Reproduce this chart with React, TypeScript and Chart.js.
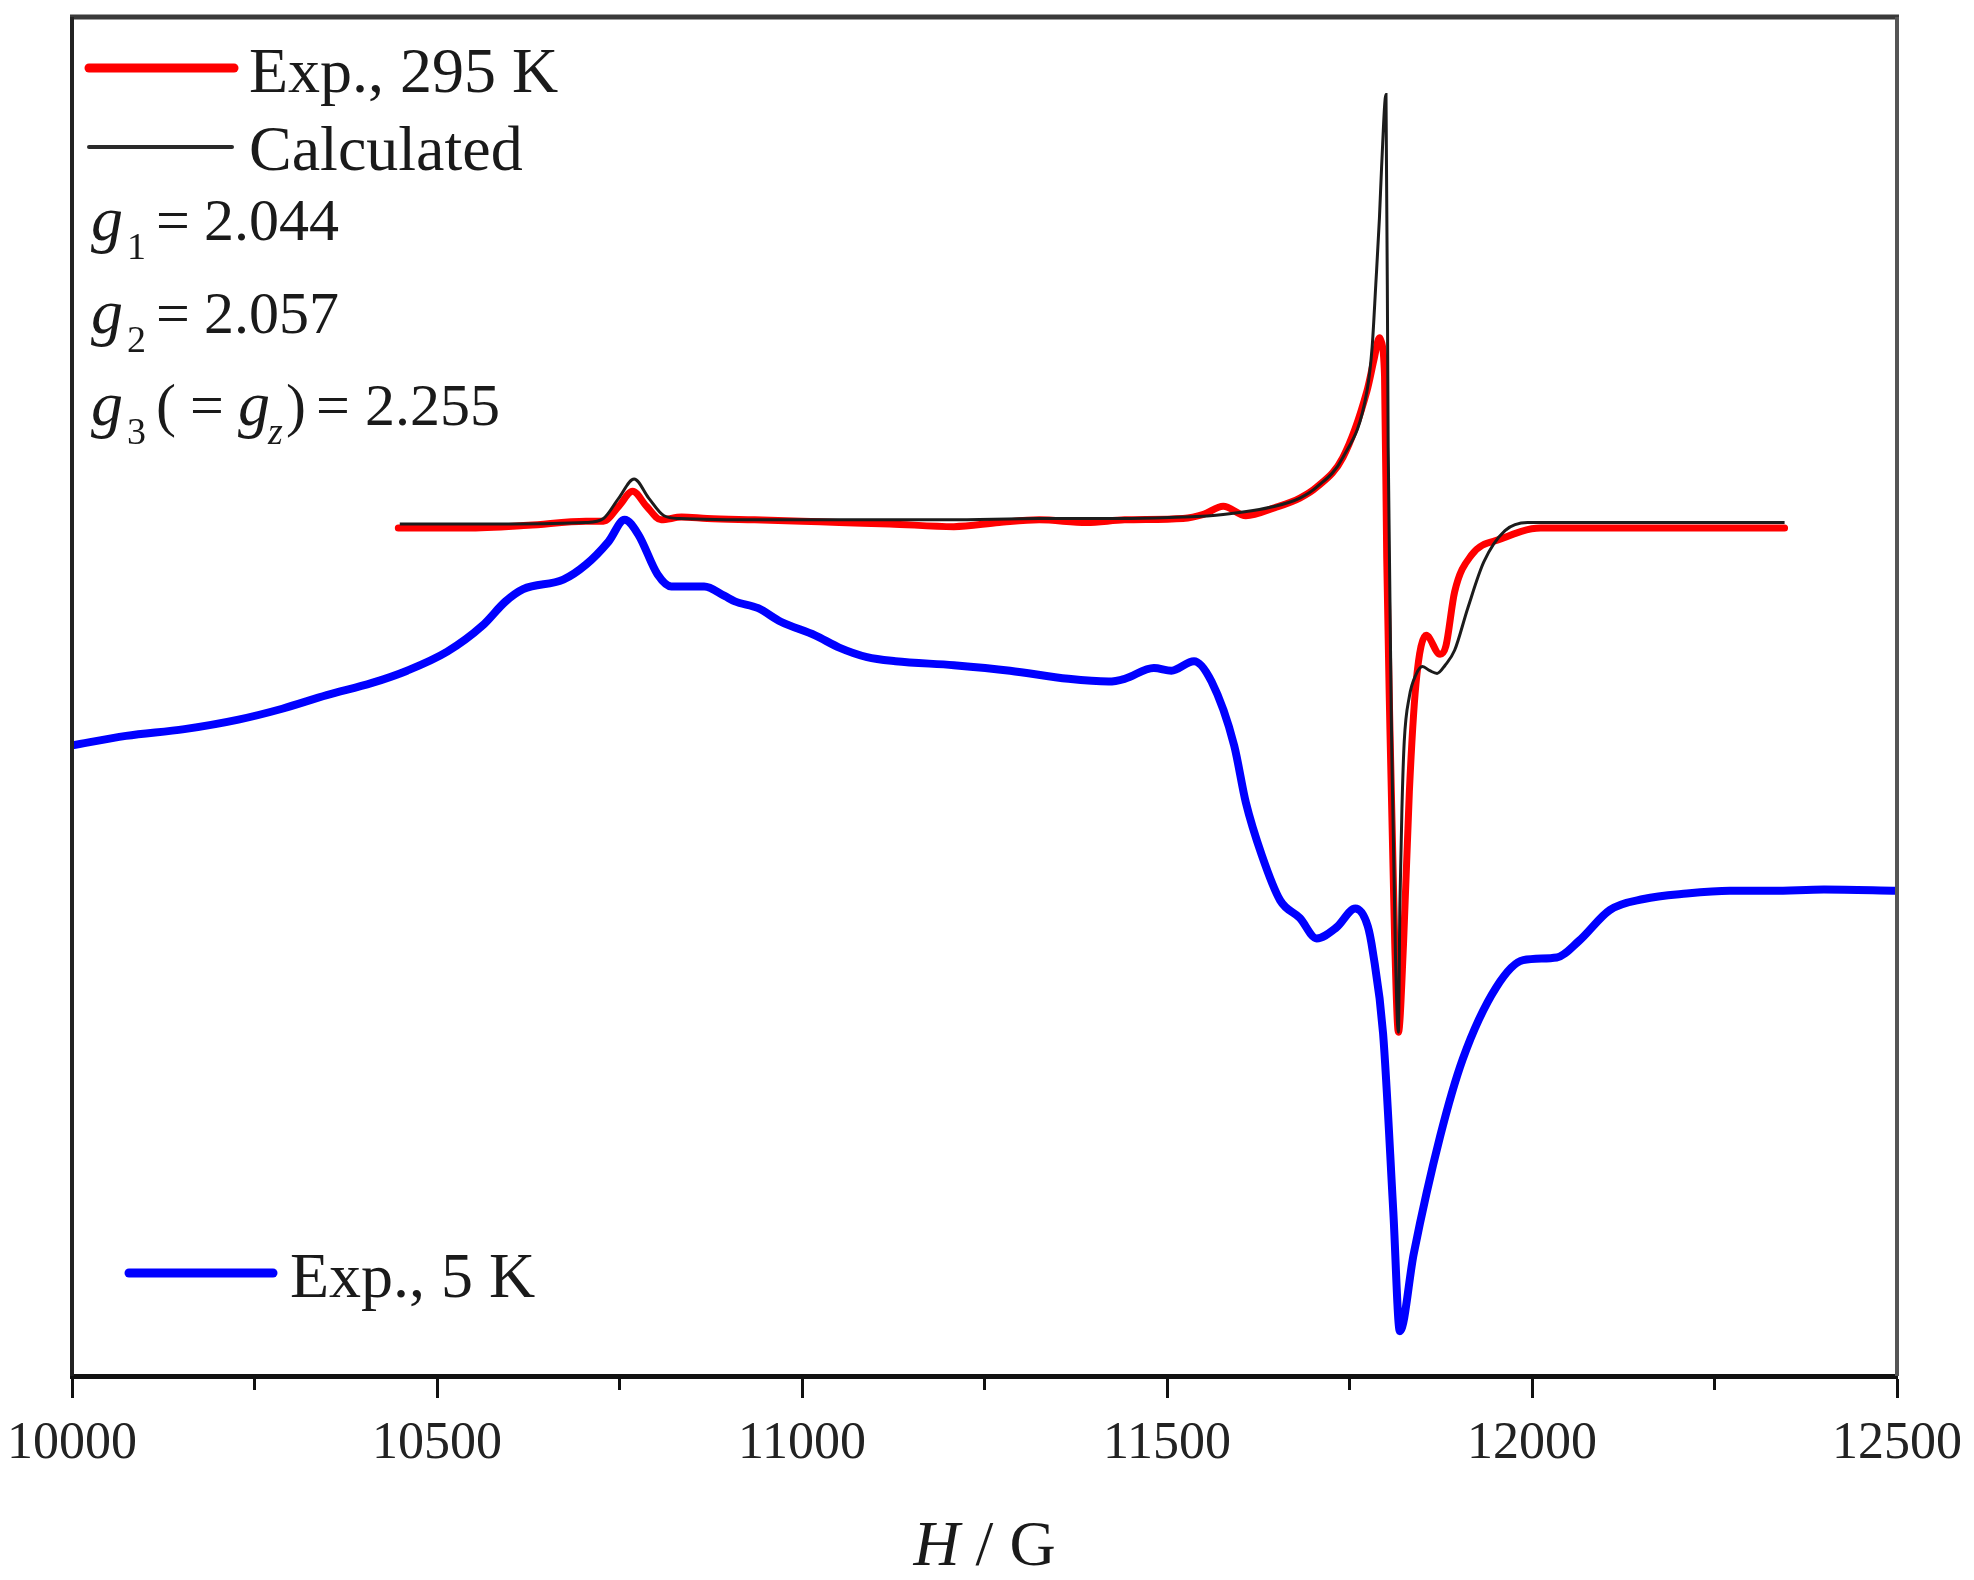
import React, { useEffect, useRef } from 'react';
import { Chart, registerables } from 'chart.js';

Chart.register(...registerables);

// ---- axis ----
const X_MIN = 10000;
const X_MAX = 12500;
const MAJOR_TICKS = [10000, 10500, 11000, 11500, 12000, 12500];
const MINOR_TICKS = [10250, 10750, 11250, 11750, 12250];
const Y_MIN = 0;
const Y_MAX = 100;

// ---- labels ----
const LABEL_295K = 'Exp., 295 K';
const LABEL_CALC = 'Calculated';
const LABEL_5K = 'Exp., 5 K';
const G1_VALUE = '2.044';
const G2_VALUE = '2.057';
const G3_VALUE = '2.255';
const X_TITLE_ITALIC = 'H';
const X_TITLE_REST = ' / G';

// ---- Exp., 5 K (field in G, intensity in arb. units) ----
const blueH = [10000, 10074, 10154, 10228, 10288, 10349, 10411, 10459, 10514, 10562, 10594, 10618, 10673, 10704, 10735, 10757, 10776, 10802, 10821, 10866, 10894, 10908, 10940, 10971, 11018, 11051, 11089, 11128, 11208, 11285, 11365, 11420, 11442, 11482, 11506, 11537, 11561, 11592, 11608, 11630, 11655, 11682, 11705, 11732, 11758, 11775, 11782, 11796, 11810, 11819, 11838, 11874, 11905, 11951, 11988, 12034, 12064, 12107, 12153, 12212, 12271, 12329, 12400, 12500];
const blueI = [46.4, 47.1, 47.6, 48.3, 49.1, 50.1, 51.0, 51.9, 53.3, 55.2, 57.0, 57.9, 58.6, 59.7, 61.4, 63.0, 61.9, 59.0, 58.1, 58.1, 57.4, 57.0, 56.5, 55.5, 54.5, 53.6, 52.9, 52.6, 52.3, 51.9, 51.3, 51.1, 51.3, 52.1, 51.9, 52.6, 51.1, 46.4, 42.2, 38.3, 35.0, 33.7, 32.2, 33.0, 34.4, 33.1, 31.2, 25.2, 12.1, 3.3, 9.0, 17.6, 23.3, 28.6, 30.6, 30.8, 32.0, 34.3, 35.1, 35.5, 35.7, 35.7, 35.8, 35.7];

// ---- Exp., 295 K ----
const redH = [10447, 10540, 10625, 10704, 10728, 10749, 10768, 10787, 10807, 10835, 10870, 10935, 11000, 11051, 11120, 11208, 11270, 11325, 11390, 11442, 11522, 11550, 11577, 11608, 11648, 11682, 11705, 11741, 11774, 11784, 11791, 11793, 11798, 11801, 11805, 11812, 11817, 11824, 11832, 11841, 11855, 11874, 11882, 11894, 11917, 11958, 12012, 12100, 12200, 12346];
const redI = [62.4, 62.4, 62.6, 62.9, 62.9, 64.0, 65.1, 64.0, 63.0, 63.2, 63.1, 63.0, 62.9, 62.8, 62.7, 62.5, 62.8, 63.0, 62.8, 63.0, 63.1, 63.4, 64.0, 63.3, 63.9, 64.6, 65.4, 67.6, 72.5, 74.9, 76.4, 76.2, 73.6, 60.2, 48.6, 31.8, 25.3, 31.8, 43.0, 50.9, 54.5, 53.1, 53.7, 57.7, 60.4, 61.6, 62.4, 62.4, 62.4, 62.4];

// ---- Calculated ----
const calcH = [10449, 10600, 10704, 10728, 10749, 10770, 10790, 10811, 10832, 10950, 11051, 11200, 11325, 11450, 11522, 11577, 11648, 11682, 11705, 11741, 11774, 11781, 11786, 11791, 11794, 11800, 11803, 11808, 11813, 11817, 11819, 11822, 11825, 11832, 11841, 11850, 11860, 11870, 11881, 11894, 11912, 11934, 11963, 11994, 12100, 12346];
const calcI = [62.7, 62.7, 62.8, 63.1, 64.6, 66.0, 64.6, 63.3, 63.1, 63.0, 63.0, 63.0, 63.1, 63.1, 63.2, 63.4, 64.0, 64.6, 65.4, 67.6, 72.5, 75.7, 80.3, 85.2, 89.0, 94.3, 68.3, 45.8, 30.9, 25.3, 34.6, 42.1, 46.7, 50.0, 51.6, 52.2, 51.9, 51.7, 52.3, 53.4, 56.5, 59.9, 62.2, 62.8, 62.8, 62.8];

const pts = (xs: number[], ys: number[]) => {
  const n = Math.min(xs.length, ys.length);
  const out: { x: number; y: number }[] = [];
  for (let i = 0; i < n; i++) out.push({ x: xs[i], y: ys[i] });
  return out;
};

const SERIF = '"Liberation Serif", "Times New Roman", Times, serif';
const TEXT_COLOR = '#1a1a1a';

const decorPlugin = {
  id: 'decor',
  afterDraw(chart: any) {
    const { ctx, chartArea: ca, scales } = chart;
    const xs = scales.x;
    ctx.save();

    // frame (top, left, right)
    ctx.lineCap = 'butt';
    ctx.strokeStyle = '#3a3a3a';
    ctx.lineWidth = 5;
    ctx.beginPath();
    ctx.moveTo(ca.left - 2, ca.top);
    ctx.lineTo(ca.right + 2, ca.top);
    ctx.stroke();
    ctx.lineWidth = 4;
    ctx.strokeStyle = '#222';
    ctx.beginPath();
    ctx.moveTo(ca.left, ca.top);
    ctx.lineTo(ca.left, ca.bottom);
    ctx.stroke();
    ctx.strokeStyle = '#555';
    ctx.beginPath();
    ctx.moveTo(ca.right, ca.top);
    ctx.lineTo(ca.right, ca.bottom);
    ctx.stroke();

    // minor ticks
    ctx.strokeStyle = '#111';
    ctx.lineWidth = 3;
    MINOR_TICKS.forEach((v) => {
      const px = xs.getPixelForValue(v);
      ctx.beginPath();
      ctx.moveTo(px, ca.bottom);
      ctx.lineTo(px, ca.bottom + 14);
      ctx.stroke();
    });

    // legend lines
    ctx.lineCap = 'round';
    ctx.strokeStyle = '#ff0000';
    ctx.lineWidth = 9;
    ctx.beginPath();
    ctx.moveTo(89, 68);
    ctx.lineTo(234, 68);
    ctx.stroke();
    ctx.strokeStyle = '#2a2a2a';
    ctx.lineWidth = 4;
    ctx.beginPath();
    ctx.moveTo(89, 147);
    ctx.lineTo(232, 147);
    ctx.stroke();
    ctx.strokeStyle = '#0000ff';
    ctx.lineWidth = 9;
    ctx.beginPath();
    ctx.moveTo(129, 1273);
    ctx.lineTo(273, 1273);
    ctx.stroke();

    // legend text
    ctx.fillStyle = TEXT_COLOR;
    ctx.textBaseline = 'alphabetic';
    ctx.textAlign = 'left';
    const reg = `64px ${SERIF}`;
    const num = `60px ${SERIF}`;
    const ital = `italic 64px ${SERIF}`;
    const sub = `38px ${SERIF}`;
    const subIt = `italic 38px ${SERIF}`;
    ctx.font = reg;
    ctx.fillText(LABEL_295K, 249, 92);
    ctx.fillText(LABEL_CALC, 249, 170);
    ctx.fillText(LABEL_5K, 290, 1297);

    const gLine = (base: number, subTxt: string, value: string) => {
      ctx.font = ital;
      ctx.fillText('g', 91, base);
      ctx.font = sub;
      ctx.fillText(subTxt, 127, base + 19);
      ctx.font = num;
      ctx.fillText('=', 156, base);
      ctx.fillText(value, 204, base);
    };
    gLine(240, '1', G1_VALUE);
    gLine(333, '2', G2_VALUE);

    const b3 = 425;
    ctx.font = ital;
    ctx.fillText('g', 91, b3);
    ctx.font = sub;
    ctx.fillText('3', 127, b3 + 19);
    ctx.font = num;
    ctx.fillText('(', 156, b3);
    ctx.fillText('=', 190, b3);
    ctx.font = ital;
    ctx.fillText('g', 238, b3);
    ctx.font = subIt;
    ctx.fillText('z', 268, b3 + 19);
    ctx.font = num;
    ctx.fillText(')', 286, b3);
    ctx.fillText('=', 316, b3);
    ctx.fillText(G3_VALUE, 365, b3);

    // x-axis title: italic H, upright " / G"
    const cx = (ca.left + ca.right) / 2;
    ctx.font = ital;
    const wH = ctx.measureText(X_TITLE_ITALIC).width;
    ctx.font = reg;
    const wR = ctx.measureText(X_TITLE_REST).width;
    const startX = cx - (wH + wR) / 2;
    ctx.font = ital;
    ctx.fillText(X_TITLE_ITALIC, startX, 1565);
    ctx.font = reg;
    ctx.fillText(X_TITLE_REST, startX + wH, 1565);

    ctx.restore();
  },
};

export default function App() {
  const ref = useRef<HTMLCanvasElement | null>(null);

  useEffect(() => {
    document.body.style.margin = '0';
    const canvas = ref.current;
    if (!canvas) return;
    const chart = new Chart(canvas, {
      type: 'line',
      data: {
        datasets: [
          {
            label: LABEL_CALC,
            data: pts(calcH, calcI),
            borderColor: '#1c1c1c',
            borderWidth: 3,
            pointRadius: 0,
            fill: false,
            cubicInterpolationMode: 'monotone',
            order: 0,
          },
          {
            label: LABEL_295K,
            data: pts(redH, redI),
            borderColor: '#ff0000',
            borderWidth: 7,
            pointRadius: 0,
            fill: false,
            cubicInterpolationMode: 'monotone',
            borderJoinStyle: 'round',
            borderCapStyle: 'round',
            order: 1,
          },
          {
            label: LABEL_5K,
            data: pts(blueH, blueI),
            borderColor: '#0000ff',
            borderWidth: 8,
            pointRadius: 0,
            fill: false,
            cubicInterpolationMode: 'monotone',
            borderJoinStyle: 'round',
            borderCapStyle: 'round',
            order: 2,
          },
        ],
      } as any,
      options: {
        animation: false,
        responsive: false,
        devicePixelRatio: 1,
        layout: { padding: { left: 72, right: 77, top: 17, bottom: 0 } },
        plugins: {
          legend: { display: false },
          tooltip: { enabled: false },
        },
        scales: {
          x: {
            type: 'linear',
            min: X_MIN,
            max: X_MAX,
            afterBuildTicks: (s: any) => {
              s.ticks = MAJOR_TICKS.map((v) => ({ value: v }));
            },
            afterFit: (s: any) => {
              s.height = 204;
            },
            ticks: {
              autoSkip: false,
              maxRotation: 0,
              minRotation: 0,
              padding: 0,
              color: '#222',
              font: { family: SERIF, size: 52, lineHeight: 1.8 },
              callback: (v: any) => String(v),
            },
            grid: {
              drawOnChartArea: false,
              drawTicks: true,
              tickLength: 22,
              tickWidth: 3,
              tickColor: '#111',
            },
            border: { display: true, width: 5, color: '#111' },
            title: { display: false },
          },
          y: { display: false, min: Y_MIN, max: Y_MAX },
        },
      } as any,
      plugins: [decorPlugin],
    });
    return () => chart.destroy();
  }, []);

  return (
    <div style={{ width: 1974, height: 1580, background: '#fff' }}>
      <canvas ref={ref} width={1974} height={1580} style={{ display: 'block', width: 1974, height: 1580 }} />
    </div>
  );
}
